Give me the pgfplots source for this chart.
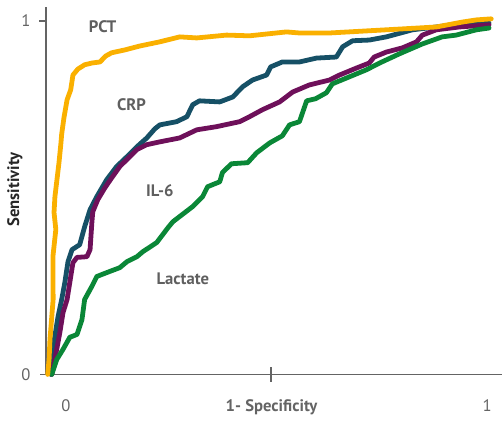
\documentclass[border=0pt]{standalone}
\usepackage{pgfplots}
\pgfplotsset{compat=1.18}
\usepackage{fontspec}
\setmainfont{PT Sans}
\definecolor{cPCT}{RGB}{250,176,0}
\definecolor{cCRP}{RGB}{22,80,102}
\definecolor{cIL}{RGB}{110,16,90}
\definecolor{cLac}{RGB}{10,135,55}
\definecolor{axgray}{RGB}{100,100,100}
\definecolor{lblgray}{RGB}{95,95,95}
\begin{document}
\fontsize{12.5}{15}\selectfont
\begin{tikzpicture}
\begin{axis}[
  x=338.25pt, y=265.5pt,
  xmin=0, xmax=1.0133, ymin=0, ymax=1.04,
  enlargelimits=false,
  axis lines*=left,
  axis line style={axgray, line width=1.2pt},
  major tick length=0pt,
  clip=false,
  /pgf/number format/assume math mode=true,
  xtick={0.0443,0.501,0.980},
  xticklabels={0,{\bfseries 1- Specificity},1},
  xticklabel style={anchor=base, yshift=-27.75pt, text=axgray},
  ytick={0,1},
  yticklabels={0,1},
  yticklabel style={anchor=east, xshift=-7.3pt, text=axgray},
  ylabel={Sensitivity},
  ylabel style={at={(axis description cs:-0.068,0.503)}, anchor=center, font=\bfseries, text=black!85},
  every axis plot/.append style={line width=3.6pt, line join=round, line cap=round, no marks},
]
\path (axis cs:-0.102,-0.11299) rectangle (axis cs:1.0133,1.05932);
\draw[axgray, line width=1.2pt] (axis cs:-0.013,0) -- (axis cs:0,0);
\draw[axgray, line width=1.2pt] (axis cs:0,1) -- ++(-5.25pt,0);
\draw[axgray, line width=1.4pt] (axis cs:0.5,0) ++(0,5.25pt) -- ++(0,-11.25pt);

% CRP
\addplot[cCRP] coordinates {
(0.011,0.0) (0.013,0.034) (0.016,0.079) (0.027,0.164) (0.035,0.212) (0.042,0.260)
(0.049,0.319) (0.058,0.353) (0.075,0.367) (0.086,0.418) (0.098,0.466) (0.113,0.503)
(0.135,0.551) (0.157,0.588) (0.180,0.616) (0.202,0.644) (0.224,0.669) (0.242,0.695)
(0.253,0.706) (0.290,0.715) (0.313,0.729) (0.326,0.763) (0.341,0.774) (0.386,0.771)
(0.415,0.785) (0.437,0.814) (0.459,0.833) (0.490,0.847) (0.499,0.870) (0.525,0.884)
(0.563,0.884) (0.601,0.895) (0.645,0.898) (0.659,0.927) (0.681,0.944) (0.718,0.946)
(0.756,0.955) (0.814,0.975) (0.867,0.983) (0.918,0.992) (0.984,0.994)
};
% IL-6
\addplot[cIL] coordinates {
(0.013,0.0) (0.024,0.071) (0.031,0.119) (0.038,0.175) (0.047,0.212) (0.053,0.260)
(0.060,0.316) (0.069,0.331) (0.091,0.333) (0.098,0.353) (0.102,0.429) (0.104,0.460)
(0.115,0.494) (0.131,0.528) (0.146,0.556) (0.164,0.588) (0.186,0.616) (0.202,0.636)
(0.224,0.650) (0.253,0.658) (0.297,0.669) (0.335,0.692) (0.379,0.701) (0.430,0.715)
(0.452,0.729) (0.481,0.749) (0.519,0.771) (0.548,0.799) (0.585,0.819) (0.630,0.833)
(0.652,0.847) (0.690,0.867) (0.718,0.881) (0.729,0.898) (0.756,0.912) (0.792,0.924)
(0.823,0.941) (0.836,0.960) (0.867,0.975) (0.918,0.983) (0.984,0.989)
};
% Lactate
\addplot[cLac] coordinates {
(0.013,0.0) (0.024,0.042) (0.038,0.071) (0.053,0.105) (0.069,0.113) (0.080,0.155)
(0.086,0.212) (0.102,0.249) (0.113,0.277) (0.135,0.288) (0.164,0.302) (0.180,0.319)
(0.202,0.333) (0.215,0.347) (0.246,0.373) (0.271,0.415) (0.282,0.432) (0.326,0.475)
(0.348,0.503) (0.359,0.531) (0.386,0.545) (0.392,0.571) (0.412,0.596) (0.448,0.599)
(0.468,0.627) (0.497,0.655) (0.525,0.675) (0.541,0.706) (0.563,0.715) (0.579,0.774)
(0.599,0.780) (0.623,0.797) (0.636,0.822) (0.674,0.842) (0.712,0.862) (0.741,0.881)
(0.785,0.907) (0.836,0.935) (0.880,0.955) (0.911,0.960) (0.956,0.975) (0.984,0.980)
};
% PCT
\addplot[cPCT] coordinates {
(0.004,0.0) (0.007,0.042) (0.009,0.099) (0.016,0.212) (0.0155,0.333) (0.022,0.410)
(0.018,0.458) (0.020,0.503) (0.029,0.599) (0.033,0.650) (0.035,0.680) (0.040,0.726)
(0.047,0.777) (0.055,0.805) (0.060,0.847) (0.071,0.864) (0.086,0.876) (0.102,0.881)
(0.120,0.884) (0.133,0.901) (0.146,0.910) (0.175,0.918) (0.208,0.929) (0.253,0.941)
(0.297,0.955) (0.335,0.952) (0.401,0.960) (0.452,0.958) (0.534,0.969) (0.563,0.966)
(0.630,0.966) (0.756,0.975) (0.867,0.983) (0.925,0.997) (0.956,1.003) (0.989,1.006)
};

\node[font=\bfseries, text=lblgray] at (axis cs:0.126,0.983) {PCT};
\node[font=\bfseries, text=lblgray] at (axis cs:0.190,0.763) {CRP};
\node[font=\bfseries, text=lblgray] at (axis cs:0.253,0.520) {IL-6};
\node[font=\bfseries, text=lblgray] at (axis cs:0.304,0.271) {Lactate};
\end{axis}
\end{tikzpicture}
\end{document}
